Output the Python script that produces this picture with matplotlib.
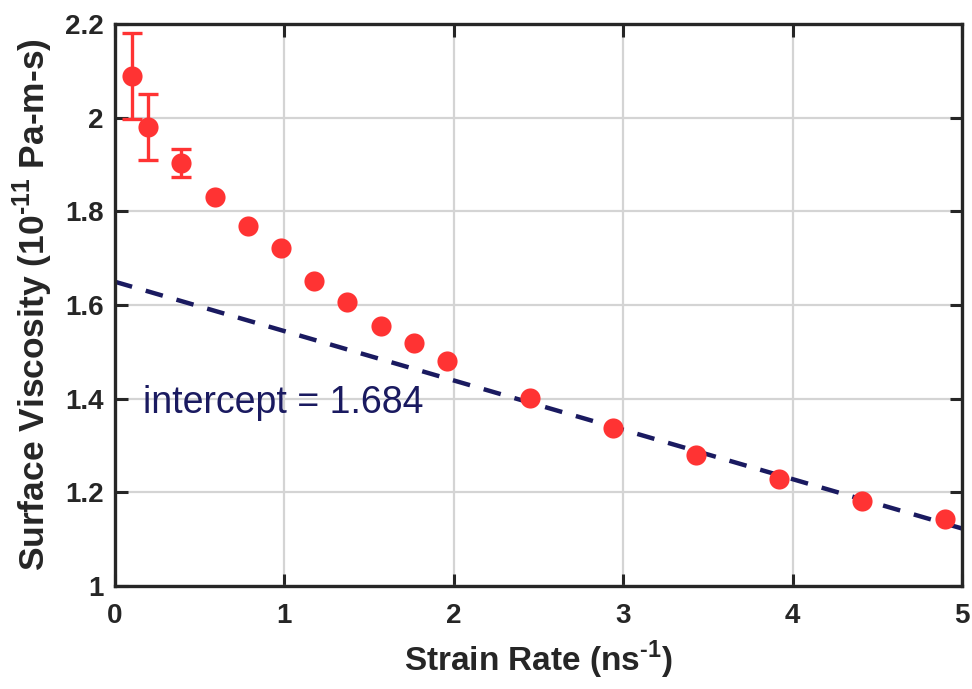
import matplotlib
matplotlib.use("Agg")
import matplotlib.pyplot as plt

# ---- data ----
strain_rate = [0.098, 0.196, 0.392, 0.588, 0.784, 0.98, 1.176, 1.372, 1.568,
               1.764, 1.96, 2.45, 2.94, 3.43, 3.92, 4.41, 4.90]
viscosity = [2.089, 1.980, 1.903, 1.831, 1.769, 1.722, 1.651, 1.606, 1.555,
             1.519, 1.480, 1.401, 1.337, 1.279, 1.228, 1.181, 1.142]
viscosity_err = [0.092, 0.070, 0.030, 0.0, 0.0, 0.0, 0.0, 0.0, 0.0,
                 0.0, 0.0, 0.0, 0.0, 0.0, 0.0, 0.0, 0.0]
fit_x = [0.0, 5.0]
fit_y = [1.6496, 1.1228]
x_ticks = [0, 1, 2, 3, 4, 5]
y_ticks = [1.0, 1.2, 1.4, 1.6, 1.8, 2.0, 2.2]
y_tick_labels = ["1", "1.2", "1.4", "1.6", "1.8", "2", "2.2"]
annotation = "intercept = 1.684"

plt.rcParams['font.family'] = ['Liberation Sans', 'DejaVu Sans']
plt.rcParams['mathtext.fontset'] = 'custom'
plt.rcParams['mathtext.rm'] = 'Liberation Sans'
plt.rcParams['mathtext.bf'] = 'Liberation Sans:bold'

fig = plt.figure(figsize=(9.72, 6.89), dpi=100)
ax = fig.add_axes([115/972, 1 - 586/689, (962 - 115)/972, (586 - 24)/689])

red = '#FF3333'
navy = '#1A1A60'
dark = '#262626'

ax.plot(fit_x, fit_y, color=navy, lw=3.2, dashes=(4, 3.2), zorder=2)
err_idx = [i for i, e in enumerate(viscosity_err) if e > 0]
ax.errorbar([strain_rate[i] for i in err_idx], [viscosity[i] for i in err_idx],
            yerr=[viscosity_err[i] for i in err_idx], fmt='none',
            ecolor=red, elinewidth=2.4, capsize=7, capthick=2.4, zorder=3)
ax.plot(strain_rate, viscosity, 'o', color=red, markersize=14.5,
        markeredgewidth=0, zorder=4, linestyle='none')

ax.text(0.165, 1.391, annotation, color=navy, fontsize=27,
        ha='left', va='center', zorder=5)

ax.set_xlim(0, 5)
ax.set_ylim(1.0, 2.2)
ax.set_xticks(x_ticks)
ax.set_xticklabels([str(t) for t in x_ticks])
ax.set_yticks(y_ticks)
ax.set_yticklabels(y_tick_labels)

ax.grid(True, color='#D4D4D4', lw=1.6, zorder=0)
ax.set_axisbelow(True)

for s in ax.spines.values():
    s.set_linewidth(2.4)
    s.set_color(dark)

ax.tick_params(direction='in', length=9, width=2.2, top=True, right=True,
               colors=dark, labelcolor=dark, labelsize=20)
ax.tick_params(axis='x', pad=12)
ax.tick_params(axis='y', pad=8)
for lab in ax.get_xticklabels() + ax.get_yticklabels():
    lab.set_fontweight('bold')

ax.set_xlabel("Strain Rate (ns$^{\\mathbf{\u2010}\\mathbf{1}}$)", fontsize=24,
              fontweight='bold', color=dark, labelpad=7)
ax.set_ylabel("Surface Viscosity (10$^{\\mathbf{\u2010}\\mathbf{11}}$ Pa-m-s)",
              fontsize=25.5, fontweight='bold', color=dark, labelpad=7)

fig.savefig("out.png", dpi=100)
